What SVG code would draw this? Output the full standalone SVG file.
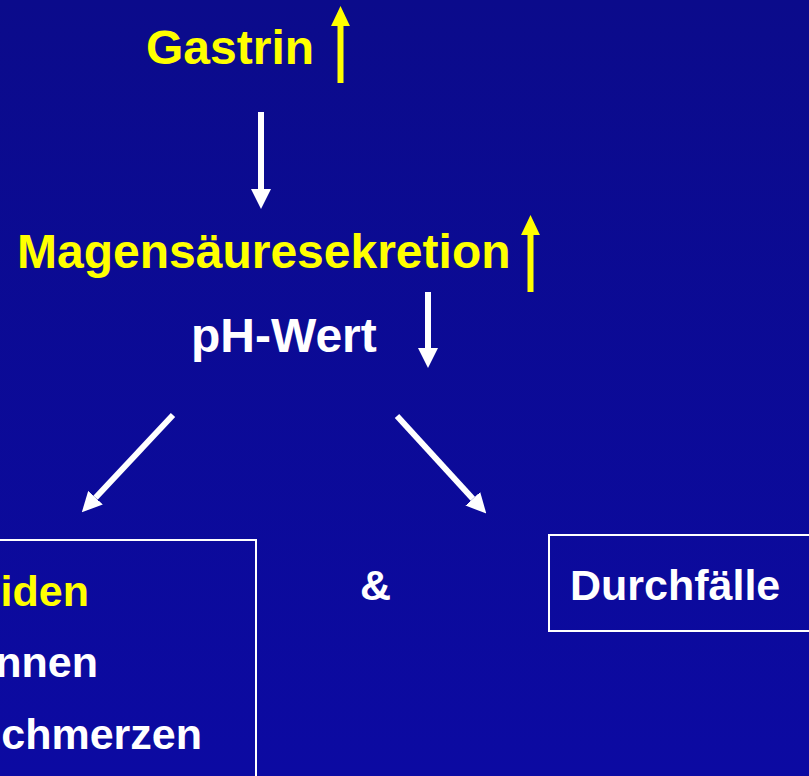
<svg xmlns="http://www.w3.org/2000/svg" width="809" height="776" viewBox="0 0 809 776">
<defs>
<linearGradient id="bg" x1="0" y1="0" x2="0" y2="1">
<stop offset="0" stop-color="#0b0b8b"/>
<stop offset="1" stop-color="#0c0aa2"/>
</linearGradient>
<marker id="hw" markerUnits="userSpaceOnUse" markerWidth="20" markerHeight="20" refX="0" refY="9" orient="auto" viewBox="0 0 18 18">
<path d="M0,0 L18,9 L0,18 z" fill="#ffffff"/>
</marker>
<marker id="hy" markerUnits="userSpaceOnUse" markerWidth="20" markerHeight="20" refX="0" refY="8.5" orient="auto" viewBox="0 0 18 17">
<path d="M0,0 L18,8.5 L0,17 z" fill="#ffff00"/>
</marker>
</defs>
<style>
.t{font-family:"Liberation Sans",Arial,sans-serif;font-weight:bold}
.big{font-size:48px}
.sm{font-size:43px}
.y{fill:#ffff00}
.w{fill:#ffffff}
.box{fill:none;stroke:#ffffff;stroke-width:2}
.aw{stroke:#ffffff;stroke-width:6;fill:none;marker-end:url(#hw)}
.ay{stroke:#ffff00;stroke-width:6;fill:none;marker-end:url(#hy)}
</style>
<rect x="0" y="0" width="809" height="776" fill="url(#bg)"/>
<g id="gastrin">
<text class="t big y" x="146" y="64">Gastrin</text>
</g>
<g id="magensaeure">
<text class="t big y" x="17" y="268">Magensäuresekretion</text>
</g>
<g id="phwert">
<text class="t big w" x="191" y="352">pH-Wert</text>
</g>
<g id="left-box">
<rect class="box" x="-10" y="540" width="266" height="250"/>
<text class="t sm y" x="89" y="606" text-anchor="end">eiden</text>
<text class="t sm w" x="98" y="677" text-anchor="end">nnen</text>
<text class="t sm w" x="202" y="749" text-anchor="end">schmerzen</text>
</g>
<g id="and">
<text class="t sm w" x="360" y="600">&amp;</text>
</g>
<g id="right-box">
<rect class="box" x="549" y="535" width="270" height="96"/>
<text class="t sm w" x="570" y="600">Durchfälle</text>
</g>
<g id="connectors">
<line class="ay" x1="340.5" y1="83" x2="340.5" y2="26"/>
<line class="aw" x1="261" y1="112" x2="261" y2="189"/>
<line class="ay" x1="530.5" y1="292" x2="530.5" y2="235"/>
<line class="aw" x1="428" y1="292" x2="428" y2="348"/>
<line class="aw" x1="173" y1="415" x2="95.5" y2="497.7"/>
<line class="aw" x1="397" y1="416" x2="472.8" y2="498.8"/>
</g>
</svg>
